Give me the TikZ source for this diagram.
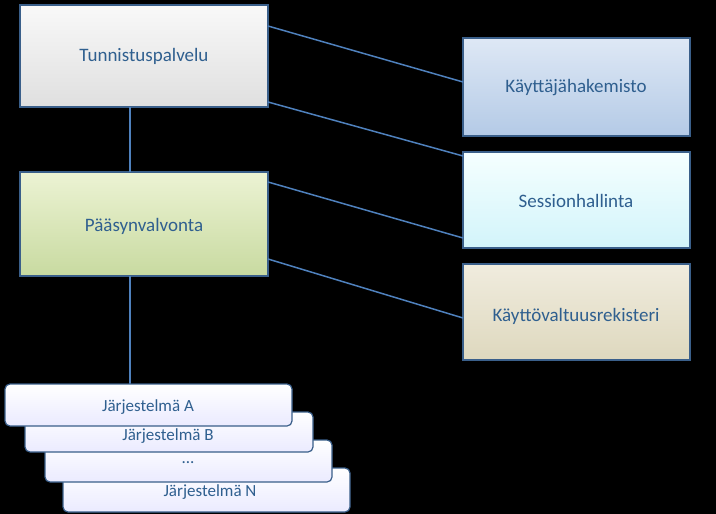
\documentclass[tikz,border=0pt]{standalone}
\usepackage{fontspec}
\setmainfont{Carlito}
\usetikzlibrary{positioning}
\definecolor{txtColor}{HTML}{2F5F8F}
\definecolor{edgeColor}{HTML}{3A5F8A}
\definecolor{lineColor}{HTML}{4F81BD}
\tikzset{
	box/.style={draw=edgeColor, line width=1.2pt, text=txtColor, font=\fontsize{19}{22}\selectfont},
	sys/.style={draw=edgeColor, line width=1.2pt, rounded corners=5pt, top color=white, bottom color=blue!8, text=txtColor, font=\fontsize{17}{20}\selectfont},
	link/.style={lineColor, line width=1.5pt}
}
\begin{document}
\begin{tikzpicture}[x=1pt,y=-1pt]
\fill[black] (0,0) rectangle (716,514);
\useasboundingbox (0,0) rectangle (716,514);
% left boxes
\draw[box, top color=gray!5, bottom color=gray!25] (20,5) rectangle (268,107);
\node[text=txtColor, font=\fontsize{19}{22}\selectfont] (tp) at (144,56) {Tunnistuspalvelu};
\draw[box, top color={rgb,255:red,236;green,243;blue,212}, bottom color={rgb,255:red,200;green,218;blue,160}] (20,172) rectangle (268,276);
\node[text=txtColor, font=\fontsize{19}{22}\selectfont] (pv) at (144,226) {Pääsynvalvonta};
% right boxes
\draw[box, top color={rgb,255:red,222;green,232;blue,245}, bottom color={rgb,255:red,180;green,202;blue,230}] (463,38) rectangle (690,136);
\node[text=txtColor, font=\fontsize{19}{22}\selectfont] (kh) at (576,88) {Käyttäjähakemisto};
\draw[box, top color={rgb,255:red,245;green,255;blue,255}, bottom color={rgb,255:red,210;green,244;blue,250}] (463,152) rectangle (690,248);
\node[text=txtColor, font=\fontsize{19}{22}\selectfont] (sh) at (576,201) {Sessionhallinta};
\draw[box, top color={rgb,255:red,240;green,236;blue,222}, bottom color={rgb,255:red,222;green,216;blue,190}] (463,264) rectangle (690,360);
\node[text=txtColor, font=\fontsize{19}{22}\selectfont] (kr) at (576,316) {Käyttövaltuusrekisteri};
% connectors
\coordinate (tpa) at (268,26); \coordinate (tpb) at (268,102);
\coordinate (pva) at (268,182); \coordinate (pvb) at (268,259);
\coordinate (kha) at (463,82); \coordinate (sha) at (463,156);
\coordinate (shb) at (463,238); \coordinate (kra) at (463,318);
\coordinate (tpd) at (130,107); \coordinate (pvu) at (130,172);
\coordinate (pvd) at (130,276); \coordinate (sysu) at (130,384);
\draw[link] (tpa) -- (kha);
\draw[link] (tpb) -- (sha);
\draw[link] (pva) -- (shb);
\draw[link] (pvb) -- (kra);
\draw[link] (tpd) -- (pvu);
\draw[link] (pvd) -- (sysu);
% system stack
\draw[sys] (63,468) rectangle (350,512);
\node[text=txtColor, font=\fontsize{17}{20}\selectfont] (sn) at (210,492) {Järjestelmä N};
\draw[sys] (45,440) rectangle (332,482);
\node[text=txtColor, font=\fontsize{17}{20}\selectfont] (sd) at (188,463) {...};
\draw[sys] (25,412) rectangle (313,452);
\node[text=txtColor, font=\fontsize{17}{20}\selectfont] (sb) at (168,436) {Järjestelmä B};
\draw[sys] (5,384) rectangle (292,426);
\node[text=txtColor, font=\fontsize{17}{20}\selectfont] (sa) at (148,407) {Järjestelmä A};
\end{tikzpicture}
\end{document}
